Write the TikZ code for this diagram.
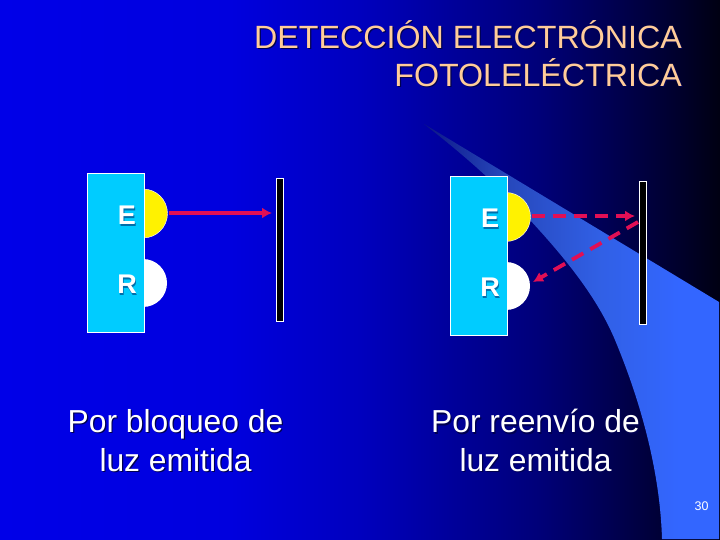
\documentclass[tikz,border=0pt]{standalone}
\usepackage{fontspec}
\setmainfont{Liberation Sans}
\usetikzlibrary{arrows.meta}
\definecolor{bgA}{RGB}{0,0,232}
\definecolor{bgB}{RGB}{0,0,222}
\definecolor{bgC}{RGB}{0,0,190}
\definecolor{bgD}{RGB}{0,0,120}
\definecolor{bgE}{RGB}{0,0,45}
\definecolor{swA}{RGB}{12,22,135}
\definecolor{swB}{RGB}{38,70,185}
\definecolor{swC}{RGB}{49,96,230}
\definecolor{swoosh}{RGB}{51,102,255}
\definecolor{title}{RGB}{255,204,153}
\definecolor{panel}{RGB}{0,204,255}
\definecolor{ray}{RGB}{225,15,85}
\definecolor{shadowpanel}{RGB}{0,110,170}
\definecolor{shadowbg}{RGB}{0,0,80}
\pgfdeclarehorizontalshading{bgshade}{100bp}{
  color(0bp)=(bgA); color(25bp)=(bgA); color(41bp)=(bgB); color(50bp)=(bgC);
  color(62.5bp)=(bgD); color(72bp)=(bgE); color(77bp)=(black); color(100bp)=(black)}
\pgfdeclarehorizontalshading{swshade}{100bp}{
  color(0bp)=(swA); color(25bp)=(swA); color(38bp)=(swB); color(55bp)=(swC);
  color(68bp)=(swoosh); color(100bp)=(swoosh)}
\tikzset{
  panelbox/.style={draw=white,line width=0.8pt,fill=panel,minimum width=57.5pt,minimum height=159pt,inner sep=0pt},
  wallbox/.style={draw=white,line width=0.9pt,fill=black,minimum width=7pt,minimum height=143pt,inner sep=0pt},
  lampy/.style={circle,fill=yellow,draw=white,line width=0.4pt,minimum size=49pt,inner sep=0pt},
  lampw/.style={circle,fill=white,minimum size=48pt,inner sep=0pt},
  letter/.style={text=white,font=\fontsize{27}{27}\selectfont\bfseries,inner sep=0pt},
  lettershadow/.style={letter,text=shadowpanel},
  bodytext/.style={text=white,font=\fontsize{31.8}{38.5}\selectfont,align=center,inner sep=0pt},
  bodyshadow/.style={bodytext,text=shadowbg},
  titletext/.style={anchor=north east,align=right,inner sep=0pt,text=title,font=\fontsize{32.2}{38}\selectfont},
  titleshadow/.style={titletext,text=shadowbg},
  raysolid/.style={ray,line width=3.8pt,-{Latex[length=10pt,width=11pt]}},
  raydash/.style={ray,line width=3.8pt,dash pattern=on 13pt off 8pt,-{Latex[length=10pt,width=11pt]}}
}
\begin{document}
\begin{tikzpicture}[x=1pt,y=-1pt]
\useasboundingbox (0,0) rectangle (720,540);
\shade[shading=bgshade] (0,0) rectangle (720,540);
% swoosh
\begin{scope}
\clip (424,124) -- (719,302) -- (719,539) -- (662,539)
  .. controls (660,470) and (640,400) .. (615,340)
  .. controls (597,297) and (565,258) .. (530,220)
  .. controls (495,182) and (460,152) .. (424,124) -- cycle;
\shade[shading=swshade] (424,124) rectangle (720,540);
\end{scope}
% left device
\node[lampy] (ly1) at (143,213.5) {};
\node[lampw] (lw1) at (143,283) {};
\node[panelbox] (p1) at (115.7,252.5) {};
\node[lettershadow] at (127.8,216.8) {E};
\node[lettershadow] at (127.8,285.8) {R};
\node[letter] (e1) at (127,215.5) {E};
\node[letter] (r1) at (127,284.5) {R};
\node[wallbox] (w1) at (279.8,249.5) {};
\coordinate (a1) at (169,213);
\coordinate (a2) at (272,213);
\draw[raysolid] (a1) -- (a2);
% right device
\node[lampy] (ly2) at (506,217) {};
\node[lampw] (lw2) at (506,286) {};
\node[panelbox] (p2) at (479,255.5) {};
\node[lettershadow] at (490.8,219.8) {E};
\node[lettershadow] at (490.8,288.8) {R};
\node[letter] (e2) at (490,218.5) {E};
\node[letter] (r2) at (490,287.5) {R};
\node[wallbox] (w2) at (643,252.5) {};
\coordinate (b1) at (532,216);
\coordinate (b2) at (635,216);
\coordinate (b3) at (638,222);
\coordinate (b4) at (533,282);
\draw[raydash] (b1) -- (b2);
\draw[raydash] (b3) -- (b4);
% texts
\node[titleshadow] at (683.2,21.2) {DETECCIÓN ELECTRÓNICA\\FOTOLELÉCTRICA};
\node[titletext] (t) at (682,20) {DETECCIÓN ELECTRÓNICA\\FOTOLELÉCTRICA};
\node[bodyshadow] at (176.7,441.7) {Por bloqueo de\\luz emitida};
\node[bodyshadow] at (536.7,441.7) {Por reenvío de\\luz emitida};
\node[bodytext] (c1) at (175.5,440.5) {Por bloqueo de\\luz emitida};
\node[bodytext] (c2) at (535.5,440.5) {Por reenvío de\\luz emitida};
\node[text=white,font=\fontsize{12.5}{12.5}\selectfont,inner sep=0pt] (n) at (701.5,506) {30};
\end{tikzpicture}
\end{document}
